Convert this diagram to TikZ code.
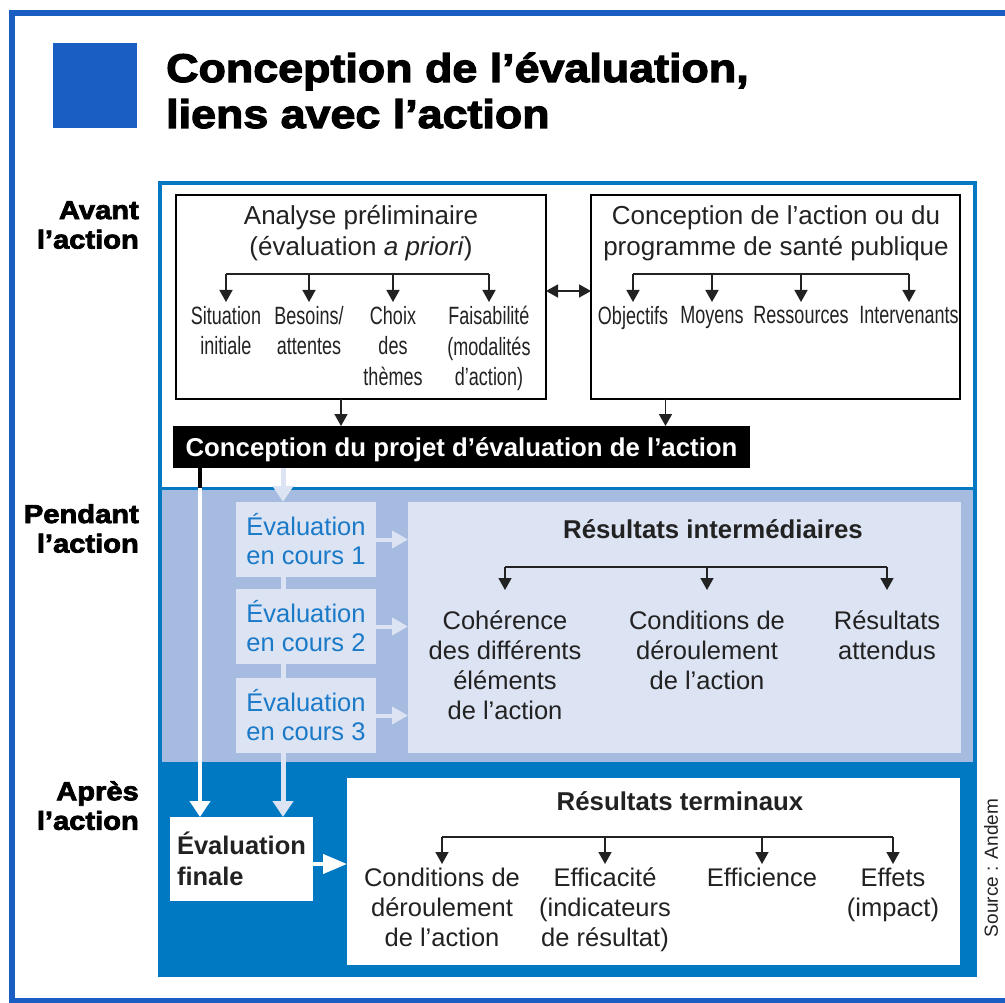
\documentclass[tikz,border=0pt]{standalone}
\usepackage{fontspec}
\setmainfont{Liberation Sans}
\newfontfamily\heavyfont{Liberation Sans}[FakeStretch=1.12,BoldFeatures={FakeBold=3}]
\newfontfamily\narrowfont{Liberation Sans}[FakeStretch=0.72]
\usetikzlibrary{arrows.meta}

\definecolor{framecol}{RGB}{26,94,196}
\definecolor{bandcol}{RGB}{0,121,194}
\definecolor{midcol}{RGB}{166,187,224}
\definecolor{palecol}{RGB}{220,227,242}
\definecolor{evalcol}{RGB}{26,122,200}
\definecolor{inkcol}{RGB}{34,34,34}

\begin{document}
\begin{tikzpicture}[x=1pt,y=-1pt,
    >={Triangle[width=13pt,length=12pt]},
    brline/.style={line width=1.6pt,draw=inkcol},
    framebox/.style={draw=black,line width=1.8pt,fill=white,outer sep=0pt,inner sep=0pt,anchor=north west},
    palebox/.style={fill=palecol,outer sep=0pt,inner sep=0pt,anchor=north west},
    headtext/.style={anchor=north,align=center,inner sep=0pt,text=inkcol,font=\fontsize{26}{31}\selectfont},
    boldhead/.style={anchor=north,inner sep=0pt,text=inkcol,font=\bfseries\fontsize{25.8}{31}\selectfont},
    twig/.style={anchor=north,align=center,inner xsep=0pt,inner ysep=4pt,text=inkcol,font=\narrowfont\fontsize{25}{30.5}\selectfont},
    leaf/.style={anchor=north,align=center,inner xsep=0pt,text=inkcol,font=\fontsize{25.5}{30}\selectfont},
    sidelabel/.style={anchor=north east,align=right,inner sep=0pt,font=\heavyfont\bfseries\fontsize{26}{29.5}\selectfont},
    evalbox/.style={palebox,minimum width=140,minimum height=75,align=left,text=evalcol,font=\fontsize{25.5}{29}\selectfont},
    paleline/.style={draw=palecol,line width=5pt},
    palearrow/.style={paleline,-{Triangle[width=20pt,length=16pt]}},
    sidearrow/.style={draw=palecol,line width=4pt,-{Triangle[width=17pt,length=16pt]}}]
  \useasboundingbox (0,0) rectangle (1005,1003);

  \draw[framecol,line width=6pt] (11.5,13) rectangle (1030,1000.5);
  \fill[framecol] (53,43) rectangle (137,128);
  \node[anchor=base west,inner sep=0pt,font=\heavyfont\bfseries\fontsize{40}{46}\selectfont] (T1) at (166,82) {Conception de l’évaluation,};
  \node[anchor=base west,inner sep=0pt,font=\heavyfont\bfseries\fontsize{40}{46}\selectfont] (T2) at (166,128) {liens avec l’action};

  \fill[white] (159.5,183) rectangle (974.5,488);
  \fill[midcol] (159.5,488) rectangle (974.5,762);
  \fill[bandcol] (159.5,762) rectangle (974.5,975);
  \draw[bandcol,line width=4pt] (159.5,183) rectangle (974.5,975);
  \draw[bandcol,line width=3pt] (159.5,488) -- (974.5,488);

  \node[sidelabel] (LA) at (139,201) {Avant\\l’action};
  \node[sidelabel] (LP) at (139,504) {Pendant\\l’action};
  \node[sidelabel] (LR) at (139,781) {Après\\l’action};

  \node[framebox,minimum width=370,minimum height=204] (AP) at (176,195) {};
  \node[framebox,minimum width=369,minimum height=204] (CA) at (591,195) {};
  \node[headtext] (APt) at (361,205) {Analyse préliminaire\\(évaluation \textit{a priori})};
  \node[headtext] (CAt) at (776,205) {Conception de l’action ou du\\programme de santé publique};

  \coordinate (APb) at (226,274);
  \foreach \n/\x/\t in {1/226/{Situation\\initiale},2/309/{Besoins/\\attentes},3/393/{Choix\\des\\thèmes},4/489/{Faisabilité\\(modalités\\d’action)}}
    \node[twig] (S\n) at (\x,302) {\t};
  \draw[brline] (S1.north|-APb) -- (S4.north|-APb);
  \foreach \n in {1,...,4}
    \draw[brline,->] (S\n.north|-APb) -- (S\n.north);

  \coordinate (CAb) at (633,274);
  \foreach \n/\x/\t in {1/633/Objectifs,2/712/Moyens,3/801/Ressources,4/909/Intervenants}
    \node[twig] (O\n) at (\x,302) {\t};
  \draw[brline] (O1.north|-CAb) -- (O4.north|-CAb);
  \foreach \n in {1,...,4}
    \draw[brline,->] (O\n.north|-CAb) -- (O\n.north);

  \coordinate (MID) at (568,291);
  \draw[brline,<->] (AP.east|-MID) -- (CA.west|-MID);

  \node[fill=black,text=white,font=\bfseries\fontsize{25.8}{31}\selectfont,minimum width=577,minimum height=42,
    text depth=0pt,inner sep=0pt,outer sep=0pt,anchor=north west] (CP) at (173,426) {Conception du projet d’évaluation de l’action};
  \draw[brline,->] ([xshift=-20pt]AP.south) -- ([xshift=-20pt]AP.south|-CP.north);
  \draw[brline,->] ([xshift=-110pt]CA.south) -- ([xshift=-110pt]CA.south|-CP.north);

  \node[evalbox] (E1) at (236,502) {Évaluation\\en cours 1};
  \node[evalbox] (E2) at (236,589) {Évaluation\\en cours 2};
  \node[evalbox] (E3) at (236,678) {Évaluation\\en cours 3};

  \node[palebox,minimum width=553,minimum height=251] (RI) at (408,502) {};
  \node[boldhead] (RIt) at (713,519) {Résultats intermédiaires};
  \coordinate (RIb) at (505,567);
  \foreach \n/\x/\t in {1/505/{Cohérence\\des différents\\éléments\\de l’action},2/707/{Conditions de\\déroulement\\de l’action},3/887/{Résultats\\attendus}}
    \node[leaf,inner ysep=21pt] (R\n) at (\x,590) {\t};
  \draw[brline] (R1.north|-RIb) -- (R3.north|-RIb);
  \foreach \n in {1,...,3}
    \draw[brline,->] (R\n.north|-RIb) -- (R\n.north);
  \foreach \n in {1,...,3}
    \draw[sidearrow] (E\n.east) -- (E\n.east-|RI.west);

  \node[fill=white,outer sep=0pt,inner sep=0pt,anchor=north west,minimum width=143,minimum height=84,
    align=left,text=inkcol,font=\bfseries\fontsize{25.5}{31}\selectfont] (EF) at (170,817) {Évaluation\\finale};
  \node[fill=white,outer sep=0pt,inner sep=0pt,anchor=north west,minimum width=613,minimum height=187] (RT) at (347,778) {};
  \node[boldhead] (RTt) at (680,791) {Résultats terminaux};
  \coordinate (RTb) at (442,837);
  \foreach \n/\x/\t in {1/442/{Conditions de\\déroulement\\de l’action},2/605/{Efficacité\\(indicateurs\\de résultat)},3/762/Efficience,4/893/{Effets\\(impact)}}
    \node[leaf,inner ysep=4pt] (F\n) at (\x,864) {\t};
  \draw[brline] (F1.north|-RTb) -- (F4.north|-RTb);
  \foreach \n in {1,...,4}
    \draw[brline,->] (F\n.north|-RTb) -- (F\n.north);

  \coordinate (VL) at (283,488);
  \coordinate (VK) at (200,488);
  \draw[palearrow] (CP.south-|VL) -- (E1.north-|VL);
  \draw[paleline] (E1.south-|VL) -- (E2.north-|VL);
  \draw[paleline] (E2.south-|VL) -- (E3.north-|VL);
  \draw[palearrow] (E3.south-|VL) -- (EF.north-|VL);
  \draw[draw=white,line width=4.5pt,-{Triangle[width=20pt,length=16pt]}] (VK) -- (EF.north-|VK);
  \draw[line width=4.5pt] (CP.south-|VK) -- (VK);
  \coordinate (EFa) at ([yshift=-5pt]EF.east);
  \draw[draw=white,line width=4pt,-{Triangle[width=19pt,length=24pt]}] (EFa) -- (EFa-|RT.west);

  \node[rotate=90,inner sep=0pt,text=inkcol,font=\fontsize{19}{22}\selectfont] (SRC) at (991,868) {Source : Andem};
\end{tikzpicture}
\end{document}
